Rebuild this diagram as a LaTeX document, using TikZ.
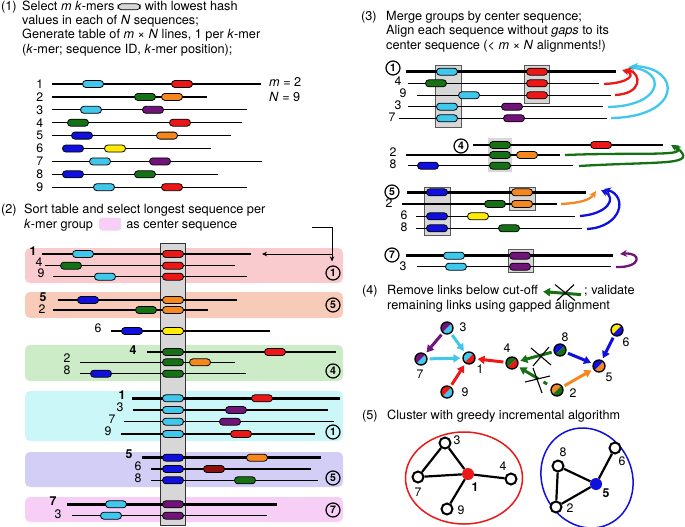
\documentclass[tikz,border=0pt]{standalone}
\usepackage{fontspec}
\setmainfont{TeX Gyre Heros}
\usetikzlibrary{arrows.meta,calc}
\definecolor{kCyan}{RGB}{64,200,236}
\definecolor{kRed}{RGB}{236,24,24}
\definecolor{kGreen}{RGB}{22,112,22}
\definecolor{kOrange}{RGB}{246,134,30}
\definecolor{kPurple}{RGB}{112,20,122}
\definecolor{kBlue}{RGB}{16,16,222}
\definecolor{kYellow}{RGB}{255,236,0}
\definecolor{kDRed}{RGB}{140,16,16}
\definecolor{colGray}{RGB}{215,215,215}
\definecolor{bxRed}{RGB}{249,202,206}
\definecolor{bxSal}{RGB}{248,203,184}
\definecolor{bxGrn}{RGB}{203,236,198}
\definecolor{bxCyn}{RGB}{204,247,249}
\definecolor{bxLav}{RGB}{210,206,246}
\definecolor{bxLil}{RGB}{246,206,246}
\newcommand\seqrow[5]{\draw[#1] (#3,#2) -- (#4,#2);
  \foreach \cc/\xx in {#5} {\node[km, fill=\cc] at (\xx,#2) {};}}
\begin{document}
\begin{tikzpicture}[x=1pt,y=-1pt,
  km/.style={draw=black, line width=0.8, rounded corners=3.4, minimum width=21, minimum height=7, inner sep=0},
  thk/.style={line width=2.8, line cap=butt},
  thn/.style={line width=1.25},
  lbl/.style={font=\fontsize{12.3}{12}\selectfont, inner sep=0},
  blbl/.style={font=\bfseries\fontsize{12.3}{12}\selectfont, inner sep=0},
  cnum/.style={circle, draw, line width=1.2, minimum size=14, inner sep=0, font=\bfseries\fontsize{10.5}{10}\selectfont},
  gbox/.style={fill=colGray, draw=black!65, line width=0.7},
  grpbox/.style={rounded corners=5},
  hdr/.style={anchor=base west, inner sep=0, font=\fontsize{12.7}{14}\selectfont},
  smallar/.style={line width=0.8, -{Stealth[length=5,width=4.5]}},
  arS3/.style={line width=2.3, -{Stealth[length=7,width=7]}},
  arS4/.style={line width=3, -{Triangle[length=7,width=8]}, shorten >=2, shorten <=2},
  bnode/.style 2 args={circle, draw=black, line width=1.3, minimum size=12, inner sep=0,
    path picture={\fill[#1] (path picture bounding box.north west) -- (path picture bounding box.north east) -- (path picture bounding box.south west) -- cycle;
      \fill[#2] (path picture bounding box.south east) -- (path picture bounding box.north east) -- (path picture bounding box.south west) -- cycle;}},
  onode/.style={circle, draw=black, line width=2, fill=white, minimum size=11, inner sep=0},
  cedge/.style={line width=2.2}
]
\useasboundingbox (0,0) rectangle (685,527);

% ---------------- (1) ----------------
\node[hdr] (h1n) at (1,10.3) {(1)};
\node[hdr] (h1a) at (22,10.3) {Select \textit{m} \textit{k}-mers};
\node[km, fill=colGray, minimum width=22, minimum height=6] (h1icon) at ($(h1a.base east)+(14.5,-3.5)$) {};
\node[hdr] (h1b) at ($(h1a.base east)+(30,0)$) {with lowest hash};
\node[hdr] (h1c) at (22,24.6) {values in each of \textit{N} sequences;};
\node[hdr] (h1d) at (22,39) {Generate table of \textit{m} × \textit{N} lines, 1 per \textit{k}-mer};
\node[hdr] (h1e) at (22,53.4) {(\textit{k}-mer; sequence ID, \textit{k}-mer position);};

\seqrow{thn}{84}{52}{261}{kCyan/93,kRed/182}
\seqrow{thn}{96.9}{52}{207}{kGreen/145,kOrange/172}
\seqrow{thn}{109.8}{52}{247}{kCyan/91,kPurple/153}
\seqrow{thn}{122.7}{52}{242}{kGreen/78,kRed/180}
\seqrow{thn}{135.6}{52}{231}{kBlue/82,kOrange/167}
\seqrow{thn}{148.5}{62}{211}{kBlue/73,kYellow/115}
\seqrow{thn}{161.4}{52}{262}{kCyan/100,kPurple/160}
\seqrow{thn}{174.3}{52}{218}{kBlue/73,kGreen/145}
\seqrow{thn}{187.2}{52}{247}{kCyan/104,kRed/172}
\foreach \i/\yy in {1/84,2/96.9,3/109.8,4/122.7,5/135.6,6/148.5,7/161.4,8/174.3,9/187.2}
  {\node[lbl, anchor=east] (s1l\i) at (43.5,\yy) {\i};}
\node[hdr] (mval) at (269,86.5) {\textit{m} = 2};
\node[hdr] (nval) at (269,101.5) {\textit{N} = 9};

% ---------------- (2) ----------------
\node[hdr] (h2n) at (1,213) {(2)};
\node[hdr] (h2a) at (24,213) {Sort table and select longest sequence per};
\node[hdr] (h2b) at (24,228) {\textit{k}-mer group};
\node[fill=bxLil, rounded corners=3, minimum width=22, minimum height=13, inner sep=0] (h2icon) at ($(h2b.base east)+(17,-4)$) {};
\node[hdr] (h2c) at ($(h2b.base east)+(33,0)$) {as center sequence};

\fill[bxRed, grpbox] (25,248) rectangle (343,283);
\fill[bxSal, grpbox] (25,292) rectangle (343,318);
\fill[bxGrn, grpbox] (25,345) rectangle (343,381);
\fill[bxCyn, grpbox] (25,391) rectangle (343,441);
\fill[bxLav, grpbox] (25,452) rectangle (343,487);
\fill[bxLil, grpbox] (25,497) rectangle (343,522);
\draw[gbox, draw=black!80] (160,243) rectangle (185,525);

\seqrow{thk}{254}{42}{251}{kCyan/83,kRed/173}
\seqrow{thn}{265.7}{45}{235}{kGreen/71,kRed/173}
\seqrow{thn}{276.7}{53}{247}{kCyan/105,kRed/173}
\node[blbl] (a1) at (33,251) {1};
\node[lbl] (a4) at (39,262) {4};
\node[lbl] (a9) at (41,273.5) {9};
\node[cnum] (c21) at (333,273) {1};

\seqrow{thk}{300}{58}{237}{kBlue/88,kOrange/173}
\seqrow{thn}{310}{53}{208}{kGreen/146,kOrange/173}
\node[blbl] (b5) at (43,297) {5};
\node[lbl] (b2) at (42,309) {2};
\node[cnum] (c25) at (333,305) {5};

\seqrow{thn}{331}{111}{270}{kBlue/132,kYellow/173}
\node[lbl] (b6) at (98,328) {6};

\seqrow{thk}{352}{147}{336}{kGreen/173,kRed/275}
\seqrow{thn}{362.3}{80}{235}{kGreen/173,kOrange/200}
\seqrow{thn}{373.7}{80}{246}{kBlue/101,kGreen/173}
\node[blbl] (d4) at (133,350) {4};
\node[lbl] (d2) at (67,358.5) {2};
\node[lbl] (d8) at (67,370.5) {8};
\node[cnum] (c24) at (333,371) {4};

\seqrow{thk}{398.3}{132}{340}{kCyan/173,kRed/262}
\seqrow{thn}{410}{133}{328}{kCyan/173,kPurple/236}
\seqrow{thn}{421.7}{124}{334}{kCyan/173,kPurple/230}
\seqrow{thn}{434}{121}{315}{kCyan/173,kRed/241}
\node[blbl] (e1) at (122,395.5) {1};
\node[lbl] (e3) at (120,407) {3};
\node[lbl] (e7) at (112,419) {7};
\node[lbl] (e9) at (108,431) {9};
\node[cnum] (c21b) at (333,432) {1};

\seqrow{thk}{457.7}{142}{321}{kBlue/173,kOrange/257}
\seqrow{thn}{469}{151}{311}{kBlue/173,kDRed/214}
\seqrow{thn}{480.3}{151}{318}{kBlue/173,kGreen/245}
\node[blbl] (f5) at (129,454.5) {5};
\node[lbl] (f6) at (138,466) {6};
\node[lbl] (f8) at (138,478) {8};
\node[cnum] (c25b) at (333,478) {5};

\seqrow{thk}{504.3}{67}{277}{kCyan/116,kPurple/173}
\seqrow{thn}{515.7}{72}{267}{kCyan/111,kPurple/173}
\node[blbl] (g7) at (53,501) {7};
\node[lbl] (g3) at (58,514) {3};
\node[cnum] (c27) at (333,510) {7};

\coordinate (ar0) at (312,227);
\coordinate (ar1) at (332,227);
\coordinate (ar2) at (332,254);
\coordinate (ar3) at (262,254);
\draw[smallar, shorten >=4] (ar0) -- (ar1) -- (ar1 |- c21.north);
\draw[smallar] (ar2) -- (ar3);

% ---------------- (3) ----------------
\node[hdr] (h3n) at (361,20.6) {(3)};
\node[hdr] (h3a) at (386,20.6) {Merge groups by center sequence;};
\node[hdr] (h3b) at (386,35) {Align each sequence without \textit{gaps} to its};
\node[hdr] (h3c) at (386,49.3) {center sequence (< \textit{m} × \textit{N} alignments!)};

% group 1
\draw[gbox] (435,65) rectangle (461,127);
\draw[gbox] (524,65) rectangle (549,103);
\seqrow{thk}{71.7}{406}{616}{kCyan/447,kRed/537}
\seqrow{thn}{83.3}{408}{599}{kGreen/436,kRed/537}
\seqrow{thn}{95.3}{417}{611}{kCyan/469,kRed/537}
\seqrow{thn}{106.7}{408}{603}{kCyan/447,kPurple/512}
\seqrow{thn}{118.3}{399}{607}{kCyan/447,kPurple/514}
\node[cnum] (c31) at (393,68) {1};
\node[lbl] (p4) at (398,81) {4};
\node[lbl] (p9) at (403,93) {9};
\node[lbl] (p3) at (398,105) {3};
\node[lbl] (p7) at (392,117) {7};
\coordinate (r1a) at (604,84);  \coordinate (r1b) at (622,70);
\coordinate (r2a) at (615,95);  \coordinate (r2b) at (625,69);
\coordinate (q1a) at (608,107); \coordinate (q1b) at (628,67);
\coordinate (q2a) at (611,118); \coordinate (q2b) at (631,66);
\draw[arS3, kCyan] (q2a) .. controls (682,117) and (682,68) .. (q2b);
\draw[arS3, kCyan] (q1a) .. controls (662,106) and (668,72) .. (q1b);
\draw[arS3, kRed] (r2a) .. controls (642,94) and (642,74) .. (r2b);
\draw[arS3, kRed] (r1a) .. controls (630,83) and (636,74) .. (r1b);

% group 4
\fill[colGray] (488,138) rectangle (512,172);
\seqrow{thk}{145}{473}{663}{kGreen/500,kRed/601}
\seqrow{thn}{155}{406}{560}{kGreen/500,kOrange/527}
\seqrow{thn}{165.7}{408}{573}{kBlue/428,kGreen/500}
\node[cnum] (c34) at (461,146) {4};
\node[lbl] (u2) at (393,152) {2};
\node[lbl] (u8) at (393,164) {8};
\coordinate (w1a) at (565,155); \coordinate (w1b) at (671,145);
\coordinate (w2a) at (579,166); \coordinate (w2b) at (674,145);
\draw[arS3, kGreen] (w1a) .. controls (640,152) and (692,157) .. (w1b);
\draw[arS3, kGreen] (w2a) .. controls (665,161) and (698,166) .. (w2b);

% group 5
\draw[gbox] (424,187) rectangle (450,235);
\draw[gbox] (509,187) rectangle (535,210);
\seqrow{thk}{192.3}{407}{586}{kBlue/437,kOrange/522}
\seqrow{thn}{204}{402}{557}{kGreen/495,kOrange/522}
\seqrow{thn}{216.3}{416}{575}{kBlue/437,kYellow/478}
\seqrow{thn}{228.3}{416}{582}{kBlue/437,kGreen/509}
\node[cnum] (c35) at (392,192) {5};
\node[lbl] (v2) at (389,203) {2};
\node[lbl] (v6) at (404,215) {6};
\node[lbl] (v8) at (404,227) {8};
\coordinate (o1a) at (561,204); \coordinate (o1b) at (596,191);
\coordinate (b1a) at (580,216); \coordinate (b1b) at (601,190);
\coordinate (b2a) at (587,229); \coordinate (b2b) at (604,189);
\draw[arS3, kBlue] (b2a) .. controls (622,227) and (628,196) .. (b2b);
\draw[arS3, kBlue] (b1a) .. controls (608,214) and (617,198) .. (b1b);
\draw[arS3, kOrange] (o1a) .. controls (580,203) and (590,200) .. (o1b);

% group 7
\draw[gbox] (508,249) rectangle (533,272);
\seqrow{thk}{255.7}{406}{613}{kCyan/454,kPurple/520}
\seqrow{thn}{266.7}{417}{611}{kCyan/456,kPurple/520}
\node[cnum] (c37) at (392,255) {7};
\node[lbl] (z3) at (403,266) {3};
\coordinate (pu1) at (616,267); \coordinate (pu2) at (620,254);
\draw[arS3, kPurple] (pu1) .. controls (642,268) and (642,252) .. (pu2);

% ---------------- (4) ----------------
\node[hdr] (h4n) at (362,294.6) {(4)};
\node[hdr] (h4a) at (387,294.6) {Remove links below cut-off};
\begin{scope}[shift={(h4a.base east)}]
  \coordinate (ic1) at (43,0); \coordinate (ic2) at (5,-3);
  \draw[line width=3, kGreen, -{Triangle[length=7,width=8]}] (ic1) -- (ic2);
  \coordinate (ix1) at (17,-10); \coordinate (ix2) at (37,6);
  \coordinate (ix3) at (19,6); \coordinate (ix4) at (36,-10);
  \draw[line width=1.1] (ix1) -- (ix2) (ix3) -- (ix4);
\end{scope}
\node[hdr] (h4b) at ($(h4a.base east)+(46,0)$) {; validate};
\node[hdr] (h4c) at (387,309) {remaining links using gapped alignment};

\node[bnode={kPurple}{kCyan}] (n3) at (447,328) {};
\node[bnode={kPurple}{kCyan}] (n7) at (421,359) {};
\node[bnode={kCyan}{kRed}] (n1) at (469,358) {};
\node[bnode={kRed}{kCyan}] (n9) at (447,392) {};
\node[bnode={kGreen}{kRed}] (n4) at (512,363) {};
\node[bnode={kBlue}{kGreen}] (n8) at (560,350) {};
\node[bnode={kYellow}{kBlue}] (n6) at (617,330) {};
\node[bnode={kBlue}{kOrange}] (n5) at (599,366) {};
\node[bnode={kOrange}{kGreen}] (n2) at (557,390) {};
\node[lbl] (ln3) at (463,327) {3};
\node[lbl] (ln7) at (420,374) {7};
\node[lbl] (ln1) at (480,369) {1};
\node[lbl] (ln9) at (465,392) {9};
\node[lbl] (ln4) at (507,348) {4};
\node[lbl] (ln8) at (565,337) {8};
\node[lbl] (ln6) at (626,342) {6};
\node[lbl] (ln5) at (609,377) {5};
\node[lbl] (ln2) at (573,393) {2};

\draw[arS4, kPurple] (n3) -- (n7);
\draw[arS4, kCyan] (n3) -- (n1);
\draw[arS4, kCyan] (n7) -- (n1);
\draw[arS4, kRed] (n9) -- (n1);
\draw[arS4, kRed] (n4) -- (n1);
\draw[arS4, kGreen] (n8) -- (n4);
\draw[arS4, kGreen, shorten <=0] ($(n2)!0.42!(n4)$) -- (n4);
\draw[line width=3, kGreen] ($(n2)!0.22!(n4)$) -- ($(n2)!0.3!(n4)$);
\draw[arS4, kBlue] (n8) -- (n5);
\draw[arS4, kBlue] (n6) -- (n5);
\draw[arS4, kOrange] (n2) -- (n5);
\coordinate (xa1) at (531,348); \coordinate (xa2) at (551,365);
\coordinate (xa3) at (533,366); \coordinate (xa4) at (549,347);
\draw[line width=1.1] (xa1) -- (xa2) (xa3) -- (xa4);
\coordinate (xb1) at (533,368); \coordinate (xb2) at (542,393);
\coordinate (xb3) at (525,382); \coordinate (xb4) at (550,376);
\draw[line width=1.1] (xb1) -- (xb2) (xb3) -- (xb4);

% ---------------- (5) ----------------
\node[hdr] (h5n) at (362,419.6) {(5)};
\node[hdr] (h5a) at (387,419.6) {Cluster with greedy incremental algorithm};

\draw[kRed, line width=1.5] (464,478) ellipse [x radius=58.5, y radius=46];
\draw[kBlue, line width=1.5, rotate around={25:(587,478)}] (587,478) ellipse [x radius=45, y radius=51];

\node[onode] (m3) at (445,443) {};
\node[onode] (m7) at (418,477) {};
\node[circle, fill=kRed, minimum size=12, inner sep=0] (m1) at (468,474) {};
\node[onode] (m4) at (511,479) {};
\node[onode] (m9) at (447,509) {};
\node[onode] (m8) at (558,466) {};
\node[onode] (m6) at (615,448) {};
\node[circle, fill=kBlue, minimum size=12, inner sep=0] (m5) at (596,484) {};
\node[onode] (m2) at (556,507) {};
\draw[cedge] (m3) -- (m7);
\draw[cedge] (m3) -- (m1);
\draw[cedge] (m7) -- (m1);
\draw[cedge] (m1) -- (m4);
\draw[cedge] (m1) -- (m9);
\draw[cedge] (m8) -- (m5);
\draw[cedge] (m6) -- (m5);
\draw[cedge] (m2) -- (m5);
\draw[cedge] (m8) -- (m2);
\node[lbl] (lm3) at (457,440) {3};
\node[lbl] (lm7) at (418,492) {7};
\node[blbl] (lm1) at (475,487) {1};
\node[lbl] (lm4) at (503,466) {4};
\node[lbl] (lm9) at (461,510) {9};
\node[lbl] (lm8) at (563,452) {8};
\node[lbl] (lm6) at (622,461) {6};
\node[blbl] (lm5) at (606,493) {5};
\node[lbl] (lm2) at (570,508) {2};
\end{tikzpicture}
\end{document}
